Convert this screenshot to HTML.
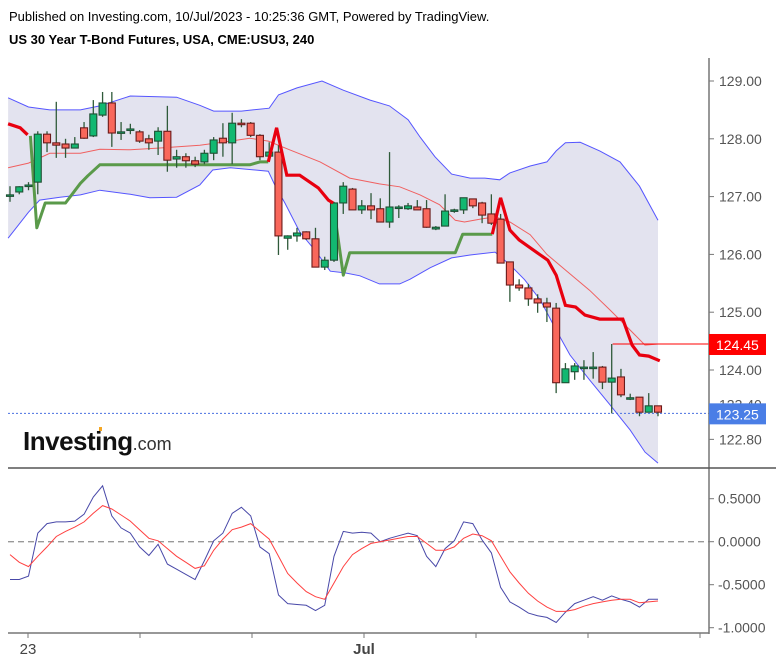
<!DOCTYPE html>
<html><head><meta charset="utf-8">
<style>
html,body{margin:0;padding:0;background:#fff;}
body{width:776px;height:662px;overflow:hidden;position:relative;font-family:"Liberation Sans",sans-serif;}
.hdr{position:absolute;left:9px;font-size:13px;color:#000;white-space:nowrap;}
svg{position:absolute;left:0;top:0;}
</style></head><body>
<div class="hdr" style="top:9px">Published on Investing.com, 10/Jul/2023 - 10:25:36 GMT, Powered by TradingView.</div>
<div class="hdr" style="top:32px;font-weight:bold">US 30 Year T-Bond Futures, USA, CME:USU3, 240</div>
<svg id="chart" width="776" height="662"></svg>
<script>
// ---- data ----
const opens  = [127.01,127.08,127.20,127.25,128.08,127.93,127.91,127.84,128.19,128.05,128.41,128.62,128.12,128.17,128.12,128.00,127.96,128.13,127.65,127.69,127.62,127.60,127.75,128.01,127.93,128.27,128.27,128.06,127.70,127.77,126.28,126.32,126.39,126.27,125.78,125.90,126.89,127.13,126.77,126.84,126.79,126.56,126.82,126.79,126.82,126.79,126.44,126.49,126.77,126.77,126.96,126.89,126.70,126.61,125.87,125.47,125.42,125.23,125.16,125.07,123.78,123.97,124.05,124.05,124.05,123.79,123.88,123.52,123.53,123.27,123.38];
const highs  = [127.18,127.18,127.25,128.13,128.13,128.64,128.00,128.03,128.29,128.67,128.81,128.81,128.29,128.26,128.15,128.07,128.20,128.57,127.81,127.75,127.69,127.81,128.03,128.27,128.45,128.34,128.29,128.08,127.94,127.89,126.33,126.46,126.40,126.46,125.96,126.91,127.25,127.15,126.94,127.06,126.97,127.77,126.85,126.89,126.94,126.94,126.49,127.04,126.79,126.98,126.96,126.91,127.04,126.70,125.87,125.57,125.49,125.31,125.25,125.16,124.12,124.12,124.17,124.31,124.07,124.45,124.02,123.59,123.53,123.60,123.38];
const lows   = [126.91,127.04,127.11,127.04,127.77,127.67,127.67,127.84,128.00,128.03,128.38,127.86,127.98,128.08,127.93,127.81,127.72,127.43,127.50,127.50,127.51,127.56,127.63,127.69,127.56,128.20,128.03,127.63,127.63,125.99,126.08,126.22,126.25,125.78,125.73,125.87,126.70,126.77,126.70,126.61,126.56,126.46,126.63,126.77,126.77,126.46,126.42,126.49,126.72,126.70,126.80,126.54,126.51,125.85,125.18,125.37,125.11,124.99,124.83,123.60,123.78,123.83,123.83,123.85,123.67,123.25,123.53,123.48,123.20,123.27,123.20];
const closes = [127.03,127.17,127.20,128.08,127.93,127.89,127.84,127.91,128.01,128.43,128.62,128.10,128.12,128.17,127.96,127.93,128.13,127.63,127.69,127.62,127.56,127.75,127.98,127.93,128.27,128.26,128.06,127.69,127.77,126.32,126.32,126.37,126.27,125.78,125.90,126.89,127.18,126.77,126.84,126.77,126.56,126.82,126.82,126.84,126.77,126.47,126.47,126.75,126.77,126.98,126.84,126.68,126.54,125.85,125.47,125.42,125.23,125.16,125.09,123.78,124.02,124.07,124.05,124.05,123.79,123.86,123.57,123.52,123.27,123.38,123.27];
const bbUpIdx  = [-0.2,2,4.3,7.6,9.7,13,18,20.5,22,25,28,29,31,33.7,36,38.9,41,43,44.3,45.9,47.7,49.7,51.3,52.9,54,56.2,58,59,60,61.6,63.7,65.9,68,70];
const bbUpVal  = [128.71,128.55,128.50,128.50,128.57,128.74,128.72,128.58,128.48,128.48,128.53,128.76,128.88,129.00,128.84,128.67,128.57,128.33,128.03,127.69,127.39,127.32,127.32,127.29,127.41,127.53,127.60,127.79,127.93,127.94,127.79,127.60,127.18,126.59];
const bbLoIdx  = [-0.2,2,3.2,5.4,7.6,9.7,13,15.1,18,20.5,21.9,23.8,27.9,28.6,29.7,31.3,32.9,34.6,36.2,37.8,39.9,42.1,43.2,45.4,47.7,49.7,52.4,54,55.6,57.3,59,60.5,62.6,64.8,67,68.6,70];
const bbLoVal  = [126.28,126.73,126.94,126.99,127.03,127.11,127.04,126.98,126.99,127.20,127.46,127.50,127.44,127.20,126.89,126.39,126.08,125.71,125.68,125.63,125.49,125.49,125.57,125.77,125.94,125.99,126.04,125.82,125.56,125.21,124.69,124.26,123.83,123.40,122.96,122.58,122.39];
const bbMidIdx = [-0.2,2,4.3,7.6,9.7,13,16.2,20.5,23.8,25.9,27.9,30.2,33.5,36.7,39.9,42.1,44.3,46.4,48.1,49.1,50.8,52.4,54,56.2,58,60,62.6,64.8,67,68.6,70];
const bbMidVal = [127.50,127.58,127.75,127.75,127.82,127.81,127.84,127.89,127.96,128.01,127.96,127.81,127.60,127.32,127.22,127.17,127.03,126.86,126.59,126.56,126.61,126.65,126.56,126.34,126.00,125.73,125.38,125.04,124.69,124.43,124.45];
const red1Idx = [-0.2,1.1,1.9];
const red1Val = [128.26,128.19,128.07];
const grn1Idx = [2.2,2.9,3.8,6,7.6,8.4,9.7,25.9,27,27.9];
const grn1Val = [128.05,126.46,126.89,126.89,127.23,127.36,127.55,127.55,127.60,127.60];
const red2Idx = [27.9,28.8,29.9,31.3,33.3,34.4,34.9];
const red2Val = [127.60,128.19,127.37,127.37,127.15,126.94,126.89];
const grn2Idx = [34.9,36,36.7,48.1,48.9,52.1];
const grn2Val = [126.89,125.64,126.03,126.03,126.35,126.35];
const red3Idx = [52.1,53,54,55,57.3,58.1,59,60,61.1,62.1,63.7,66.2,67.2,68,69,70.2];
const red3Val = [126.35,126.98,126.42,126.25,125.99,125.90,125.64,125.12,125.09,124.95,124.88,124.88,124.43,124.26,124.24,124.16];
const oscBlue = [-0.44,-0.44,-0.40,0.10,0.21,0.23,0.23,0.24,0.32,0.52,0.65,0.30,0.16,0.10,-0.06,-0.16,-0.03,-0.26,-0.32,-0.38,-0.44,-0.22,0.01,0.10,0.33,0.40,0.30,-0.06,-0.14,-0.62,-0.72,-0.73,-0.74,-0.80,-0.74,-0.17,0.12,0.10,0.11,0.10,0.00,0.04,0.07,0.10,0.07,-0.17,-0.29,-0.08,0.01,0.23,0.21,0.02,-0.13,-0.53,-0.70,-0.76,-0.83,-0.86,-0.88,-0.94,-0.82,-0.72,-0.68,-0.64,-0.68,-0.63,-0.67,-0.70,-0.76,-0.67,-0.67];
const oscRed  = [-0.15,-0.24,-0.29,-0.17,-0.06,0.06,0.12,0.17,0.23,0.33,0.42,0.38,0.31,0.24,0.14,0.04,0.01,-0.08,-0.17,-0.24,-0.31,-0.28,-0.10,0.03,0.14,0.17,0.21,0.12,0.03,-0.17,-0.37,-0.48,-0.58,-0.64,-0.67,-0.48,-0.29,-0.15,-0.08,-0.02,0.00,0.02,0.04,0.06,0.06,-0.02,-0.10,-0.10,-0.06,0.04,0.09,0.07,0.01,-0.17,-0.35,-0.48,-0.60,-0.69,-0.76,-0.81,-0.81,-0.79,-0.75,-0.72,-0.70,-0.68,-0.67,-0.67,-0.71,-0.70,-0.69];
const priceTicks = ["129.00","128.00","127.00","126.00","125.00","124.00","123.40","122.80"];
const oscTicks = ["0.5000","0.0000","-0.5000","-1.0000"];
const xTickLabels = ["23","","","Jul","","",""];
const lastPrice = 123.25, markPrice = 124.45;

// ---- axes ----
const X = i => 10 + i*9.257;
const Y = p => 81 + (129 - p)*57.8;
const YO = v => 541.7 - v*86;
const NS = "http://www.w3.org/2000/svg";
const svg = document.getElementById('chart');
function mk(tag, attrs, parent){const e=document.createElementNS(NS,tag);for(const k in attrs)e.setAttribute(k,attrs[k]);(parent||svg).appendChild(e);return e;}
function pts(idx, val, yf){return idx.map((i,k)=>X(i).toFixed(1)+','+yf(val[k]).toFixed(1)).join(' ');}

// band fill
let bandPts = pts(bbUpIdx,bbUpVal,Y)+' '+bbLoIdx.map((i,k)=>X(i).toFixed(1)+','+Y(bbLoVal[k]).toFixed(1)).reverse().join(' ');
let band = mk('polygon',{points:bandPts,fill:'#e3e3ef',stroke:'none'});


let bu = mk('polyline',{points:pts(bbUpIdx,bbUpVal,Y),fill:'none',stroke:'#5555ff','stroke-width':1});


let bl = mk('polyline',{points:pts(bbLoIdx,bbLoVal,Y),fill:'none',stroke:'#5555ff','stroke-width':1});


let bm = mk('polyline',{points:pts(bbMidIdx,bbMidVal,Y),fill:'none',stroke:'#f06060','stroke-width':1});



// last price dotted line & mark line
let lp = mk('line',{x1:8,x2:709,y1:Y(lastPrice),y2:Y(lastPrice),stroke:'#4a70e0','stroke-dasharray':'2,2','stroke-width':1});


let ml = mk('line',{x1:X(65.1),x2:709,y1:Y(markPrice),y2:Y(markPrice),stroke:'#ff0000','stroke-width':1});



// stop lines
[[grn1Idx,grn1Val,'#5a9a4a','green-stop-line-1'],[grn2Idx,grn2Val,'#5a9a4a','green-stop-line-2']].forEach(s=>{
  let l = mk('polyline',{points:pts(s[0],s[1],Y),fill:'none',stroke:s[2],'stroke-width':3,'stroke-linejoin':'round'});
  
  
});

// candles
for(let i=0;i<opens.length;i++){
  const up = closes[i]>=opens[i];
  const g = mk('g',{});
  
  
  mk('line',{x1:X(i),x2:X(i),y1:Y(highs[i]),y2:Y(lows[i]),stroke:'#2f5a3a','stroke-width':1.3},g);
  const top = Y(Math.max(opens[i],closes[i])), bot = Y(Math.min(opens[i],closes[i]));
  const h = Math.max(bot-top,1.5);
  mk('rect',{x:X(i)-3.5,y:top,width:7,height:h,fill:up?'#12b871':'#f9675b',stroke:up?'#1f4f33':'#6a1b1b','stroke-width':1.1},g);
}
[[red1Idx,red1Val,'red-stop-line-1'],[red2Idx,red2Val,'red-stop-line-2'],[red3Idx,red3Val,'red-stop-line-3']].forEach(s=>{
  let l = mk('polyline',{points:pts(s[0],s[1],Y),fill:'none',stroke:'#e8000f','stroke-width':3.2,'stroke-linejoin':'miter'});
  
  
});

// oscillator pane
let zl = mk('line',{x1:8,x2:709,y1:YO(0),y2:YO(0),stroke:'#999','stroke-dasharray':'6,4','stroke-width':1.3});


let ob = mk('polyline',{points:oscBlue.map((v,i)=>X(i).toFixed(1)+','+YO(v).toFixed(1)).join(' '),fill:'none',stroke:'#4848a8','stroke-width':1});


let orr = mk('polyline',{points:oscRed.map((v,i)=>X(i).toFixed(1)+','+YO(v).toFixed(1)).join(' '),fill:'none',stroke:'#ff4040','stroke-width':1});



// axes frames
let ax1 = mk('line',{x1:709,x2:709,y1:58,y2:634,stroke:'#777','stroke-width':1.5});


let dv = mk('line',{x1:8,x2:776,y1:468,y2:468,stroke:'#555','stroke-width':1.5});


let bx = mk('line',{x1:8,x2:709,y1:633,y2:633,stroke:'#777','stroke-width':1.5});



// price ticks
priceTicks.forEach(t=>{
  const y = Y(parseFloat(t));
  mk('line',{x1:709,x2:714,y1:y,y2:y,stroke:'#777'});
  let tx = mk('text',{x:719,y:y+5,'font-size':14,fill:'#555','font-family':'Liberation Sans, sans-serif'});
  tx.textContent = t;
  
  
});
oscTicks.forEach(t=>{
  const y = YO(parseFloat(t));
  mk('line',{x1:709,x2:714,y1:y,y2:y,stroke:'#777'});
  let tx = mk('text',{x:718,y:y+5,'font-size':14,fill:'#555','font-family':'Liberation Sans, sans-serif'});
  tx.textContent = t;
  
  
});
// price badges
[[markPrice,'#ff0000','mark-price-badge'],[lastPrice,'#4a7ee6','last-price-badge']].forEach(b=>{
  const y = Y(b[0]);
  const g = mk('g',{});
  
  
  mk('rect',{x:709,y:y-10,width:57,height:21,fill:b[1]},g);
  const t = mk('text',{x:716,y:y+6,'font-size':14,fill:'#fff','font-family':'Liberation Sans, sans-serif'},g);
  t.textContent = b[0].toFixed(2);
});
// x ticks
xTickLabels.forEach((lab,k)=>{
  const x = 28 + k*112;
  mk('line',{x1:x,x2:x,y1:633,y2:638,stroke:'#777'});
  if(lab){
    let tx = mk('text',{x:x,y:654,'font-size':15,fill:'#444','text-anchor':'middle','font-weight':lab==='Jul'?'bold':'normal','font-family':'Liberation Sans, sans-serif'});
    tx.textContent = lab;
    
    
  }
});
// logo
let lg = mk('text',{x:23,y:450,'font-family':'Liberation Sans, sans-serif',fill:'#111'});


const t1 = mk('tspan',{'font-size':26,'font-weight':'bold','letter-spacing':'-0.5'},lg); t1.textContent='Investing';
const t2 = mk('tspan',{'font-size':18,fill:'#333'},lg); t2.textContent='.com';
mk('rect',{x:99,y:427,width:3,height:4,fill:'#f5a623'});
</script>
</body></html>
